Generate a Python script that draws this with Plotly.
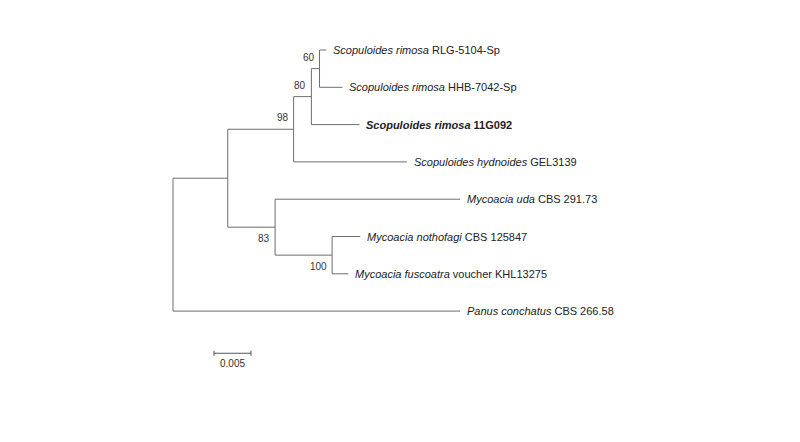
import plotly.graph_objects as go

# tree: node -> (parent, branch length)
nodes = ["root", "A", "n98", "n80", "n60", "RLG", "HHB", "G092", "hyd", "n83", "uda", "n100", "noth", "fusc", "panus"]
parents = [None, "root", "A", "n98", "n80", "n60", "n60", "n80", "n98", "A", "n83", "n83", "n100", "n100", "root"]
lengths = [0, 0.0074, 0.0089, 0.0024, 0.0011, 0.0009, 0.0031, 0.0065, 0.0153, 0.0064, 0.0250, 0.0077, 0.0038, 0.0022, 0.0388]
tips = ["RLG", "HHB", "G092", "hyd", "uda", "noth", "fusc", "panus"]
tip_labels = ["<i>Scopuloides rimosa</i> RLG-5104-Sp",
              "<i>Scopuloides rimosa</i> HHB-7042-Sp",
              "<b><i>Scopuloides rimosa</i> 11G092</b>",
              "<i>Scopuloides hydnoides</i> GEL3139",
              "<i>Mycoacia uda</i> CBS 291.73",
              "<i>Mycoacia nothofagi</i> CBS 125847",
              "<i>Mycoacia fuscoatra</i> voucher KHL13275",
              "<i>Panus conchatus</i> CBS 266.58"]
support_nodes = ["n60", "n80", "n98", "n83", "n100"]
support_values = ["60", "80", "98", "83", "100"]
scale_len = 0.005

U = scale_len / 37.0  # data units per pixel
par = dict(zip(nodes, parents))
blen = dict(zip(nodes, lengths))
X = {}
for n in nodes:
    X[n] = 0 if par[n] is None else X[par[n]] + blen[n]
Y = {t: i for i, t in enumerate(tips)}
children = {n: [c for c in nodes if par[c] == n] for n in nodes}
def gety(n):
    if n not in Y:
        ys = [gety(c) for c in children[n]]
        Y[n] = (min(ys) + max(ys)) / 2
    return Y[n]
gety("root")

xs, ys = [], []
for n in nodes:
    if par[n] is not None:
        xs += [X[par[n]], X[n], None]; ys += [Y[n], Y[n], None]
    if children[n]:
        cy = [Y[c] for c in children[n]]
        xs += [X[n], X[n], None]; ys += [min(cy), max(cy), None]

fig = go.Figure()
fig.add_trace(go.Scatter(x=xs, y=ys, mode="lines", line=dict(color="#6e6e6e", width=1), hoverinfo="skip"))
for t, lab in zip(tips, tip_labels):
    fig.add_annotation(x=X[t], y=Y[t], text=lab, showarrow=False, xanchor="left", xshift=5,
                       font=dict(size=11, color="#222", family="Liberation Sans"))
for n, v in zip(support_nodes, support_values):
    below = n in ("n83", "n100")
    fig.add_annotation(x=X[n], y=Y[n], text=v, showarrow=False, xanchor="right", xshift=-3,
                       yanchor="top" if below else "bottom", yshift=-4 if below else 4,
                       font=dict(size=10, color="#333", family="Liberation Sans"))
sy = 8.13
x0 = 41 * U
fig.add_trace(go.Scatter(x=[x0, x0, None, x0, x0 + scale_len, None, x0 + scale_len, x0 + scale_len],
                         y=[sy - 0.07, sy + 0.07, None, sy, sy, None, sy - 0.07, sy + 0.07],
                         mode="lines", line=dict(color="#555", width=1), hoverinfo="skip"))
fig.add_annotation(x=x0 + scale_len / 2, y=sy, text=str(scale_len), showarrow=False, yanchor="top", yshift=-3,
                   font=dict(size=10, color="#333", family="Liberation Sans"))

fig.update_layout(width=800, height=442, margin=dict(l=0, r=0, t=0, b=0), showlegend=False,
                  plot_bgcolor="white", paper_bgcolor="white",
                  xaxis=dict(range=[-165 * U, 635 * U], visible=False),
                  yaxis=dict(range=[(442 - 42) / 37.3, -42 / 37.3], visible=False))
fig.write_html("out.html")
